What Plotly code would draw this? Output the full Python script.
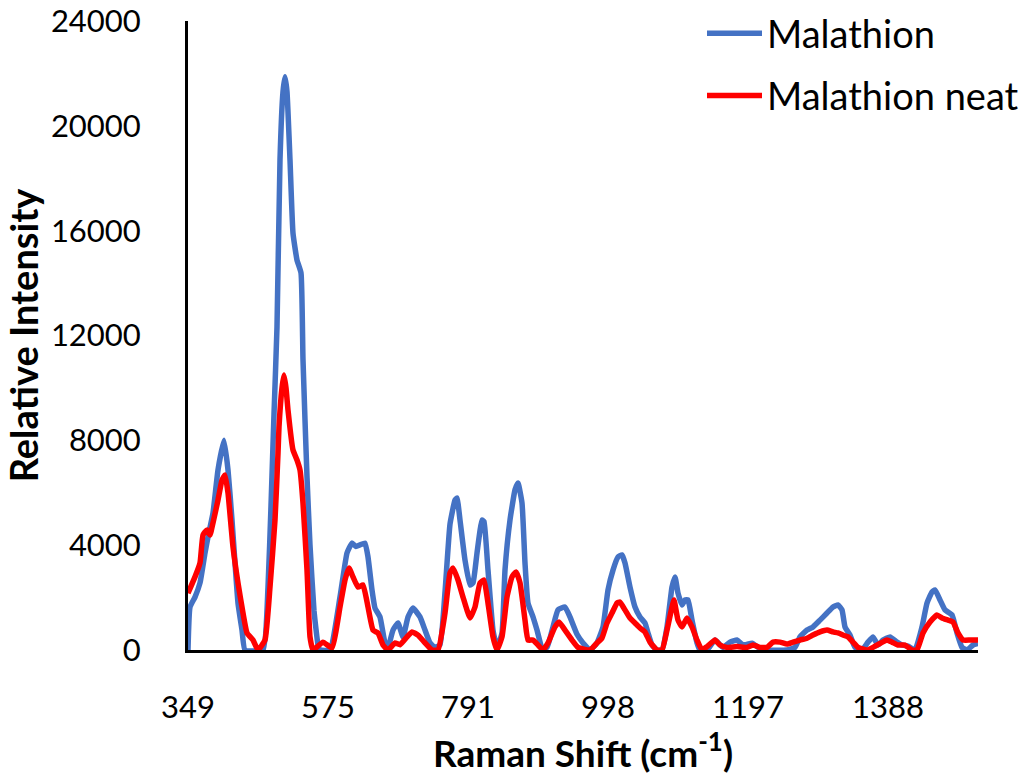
import plotly.graph_objects as go

# Detector channel (offset from the first channel) and intensities for each spectrum
malathion_ch = [0, 2, 7, 12, 17, 20, 25, 30, 36, 40, 44, 47, 50, 54, 57, 75, 80, 83, 86,
                89, 92, 95, 97, 99, 102, 105, 109, 113, 115, 119, 122, 126, 130, 132,
                142, 152, 159, 164, 168, 172, 177, 180, 184, 187, 192, 197, 200, 205,
                210, 215, 220, 225, 232, 237, 242, 247, 252, 257, 262, 267, 269, 272,
                277, 282, 285, 289, 294, 296, 300, 305, 309, 314, 317, 322, 327, 330,
                334, 337, 340, 345, 349, 354, 359, 365, 370, 377, 382, 389, 395, 402,
                409, 415, 420, 425, 430, 434, 437, 442, 447, 452, 457, 460, 464, 469,
                474, 479, 484, 487, 490, 494, 497, 500, 504, 509, 512, 519, 527, 535,
                542, 549, 555, 564, 570, 579, 599, 607, 612, 619, 625, 632, 639, 645,
                650, 654, 657, 662, 667, 674, 680, 685, 690, 695, 702, 709, 714, 720,
                727, 734, 739, 744, 747, 752, 757, 764, 769, 774, 779, 785, 790]
malathion = [0, 1640, 2020, 2560, 3700, 4310, 5230, 6870, 8000, 6870, 4960, 3320, 1790,
             760, 0, 0, 2400, 5500, 9000, 12330, 18700, 21300, 21870, 21300, 18700,
             15900, 14880, 14390, 11070, 6600, 4000, 1500, 200, 0, 0, 2020, 3700,
             4080, 3950, 4010, 4080, 3550, 2290, 1600, 1260, 270, 100, 760, 1030, 500,
             1260, 1600, 1260, 760, 270, 100, 200, 2200, 4800, 5720, 5800, 4960, 3430,
             2480, 2560, 3700, 4960, 4900, 3050, 760, 100, 650, 3050, 4960, 6110, 6370,
             5610, 3320, 1790, 1260, 760, 100, 100, 880, 1530, 1640, 1260, 600, 270, 0,
             270, 880, 2290, 3050, 3550, 3630, 3320, 2400, 1640, 1260, 1030, 650, 190,
             0, 0, 880, 2400, 2790, 2170, 1720, 1910, 1910, 1140, 270, 0, 0, 380, 100,
             300, 380, 190, 260, 100, 0, 0, 100, 500, 760, 880, 1140, 1410, 1640, 1720,
             1530, 880, 570, 100, 0, 300, 500, 190, 380, 500, 300, 190, 150, 0, 880,
             1790, 2210, 2290, 1910, 1530, 1340, 650, 100, 0, 190, 250]

neat_ch = [0, 7, 12, 15, 19, 22, 25, 30, 34, 37, 40, 45, 50, 55, 59, 65, 70, 77, 82, 87,
           90, 91, 94, 96, 98, 100, 105, 109, 112, 115, 119, 122, 125, 135, 144, 152,
           157, 161, 165, 170, 175, 180, 185, 190, 195, 200, 207, 212, 219, 224, 230,
           237, 244, 250, 257, 262, 265, 270, 275, 282, 287, 292, 296, 300, 305, 309,
           314, 319, 324, 328, 332, 337, 340, 345, 350, 355, 360, 367, 371, 377, 384,
           390, 402, 409, 414, 419, 424, 429, 432, 437, 442, 447, 452, 457, 462, 469,
           474, 479, 484, 486, 490, 494, 499, 504, 509, 514, 519, 527, 532, 539, 549,
           559, 565, 572, 579, 585, 592, 599, 605, 612, 619, 625, 632, 639, 645, 650,
           655, 660, 665, 670, 679, 685, 692, 699, 704, 710, 717, 724, 729, 735, 742,
           749, 754, 760, 765, 770, 775, 782, 790]
neat = [2170, 2790, 3320, 4390, 4580, 4390, 4850, 5720, 6490, 6680, 5990, 3930, 2560,
        1410, 650, 380, 0, 380, 2400, 4960, 7500, 8510, 10000, 10490, 10000, 9160, 7630,
        7250, 6870, 5600, 3050, 500, 0, 300, 80, 1640, 2670, 3130, 2790, 2400, 2480,
        1640, 760, 650, 190, 0, 270, 200, 500, 690, 570, 270, 0, 0, 1410, 2940, 3130,
        2670, 2020, 1220, 1640, 2560, 2670, 1790, 500, 0, 500, 2020, 2790, 2980, 2560,
        1140, 380, 380, 190, 0, 270, 880, 1070, 760, 380, 100, 0, 270, 460, 1030, 1410,
        1790, 1830, 1530, 1220, 1030, 840, 690, 300, 0, 0, 760, 1640, 1910, 1140, 880,
        1220, 880, 380, 0, 130, 380, 190, 100, 130, 100, 190, 100, 100, 300, 300, 230,
        300, 380, 450, 570, 690, 760, 690, 650, 570, 500, 300, 100, 0, 100, 250, 380,
        300, 190, 190, 0, 0, 650, 1070, 1340, 1220, 1140, 1070, 650, 380, 380, 380]

# Category labels shown along the Raman shift axis
shift_ticks = [0, 140, 280, 420, 560, 700]
shift_labels = ["349", "575", "791", "998", "1197", "1388"]
intensity_ticks = [0, 4000, 8000, 12000, 16000, 20000, 24000]
intensity_labels = [str(v) for v in intensity_ticks]

FONT = "Lato"
W, H = 1024, 778
ML, MB = 188, 128          # left / bottom margins
PLOT_RIGHT, PLOT_TOP = 978, 21

fig = go.Figure()
fig.add_trace(go.Scatter(
    x=malathion_ch, y=malathion, mode="lines", name="Malathion",
    legendgroup="a",
    line=dict(color="#4472C4", width=5.5, shape="spline", smoothing=0.4),
))
fig.add_trace(go.Scatter(
    x=neat_ch, y=neat, mode="lines", name="Malathion neat",
    legendgroup="b",
    line=dict(color="#FF0000", width=5.5, shape="spline", smoothing=0.4),
))

paper_w = W - ML
paper_h = H - MB

fig.update_layout(
    width=W, height=H,
    margin=dict(l=ML, r=0, t=0, b=MB),
    paper_bgcolor="white", plot_bgcolor="white",
    font=dict(family=FONT, size=31, color="black"),
    showlegend=True,
    legend=dict(
        x=1.0, y=1 - 2 / paper_h,
        xanchor="right", yanchor="top",
        bgcolor="rgba(0,0,0,0)", itemwidth=55, tracegroupgap=10,
        font=dict(family=FONT, size=38, color="black"),
    ),
    xaxis=dict(
        domain=[0, (PLOT_RIGHT - ML) / paper_w],
        range=[0, 790], showgrid=False, zeroline=False, automargin=False,
        showline=True, linecolor="black", linewidth=3,
        tickmode="array", tickvals=shift_ticks, ticktext=shift_labels,
        ticks="", ticklabelstandoff=28,
        tickfont=dict(family=FONT, size=31),
        title=dict(text="<b>Raman Shift (cm<sup>-1</sup>)</b>", standoff=6,
                   font=dict(family=FONT, size=37)),
    ),
    yaxis=dict(
        domain=[0, (paper_h - PLOT_TOP) / paper_h],
        range=[0, 24000], showgrid=False, zeroline=False, automargin=False,
        showline=True, linecolor="black", linewidth=3,
        tickmode="array", tickvals=intensity_ticks, ticktext=intensity_labels,
        ticks="", ticklabelstandoff=38,
        tickfont=dict(family=FONT, size=31),
        title=dict(text="<b>Relative Intensity</b>", standoff=12,
                   font=dict(family=FONT, size=38)),
    ),
)

fig.write_html("out.html")
